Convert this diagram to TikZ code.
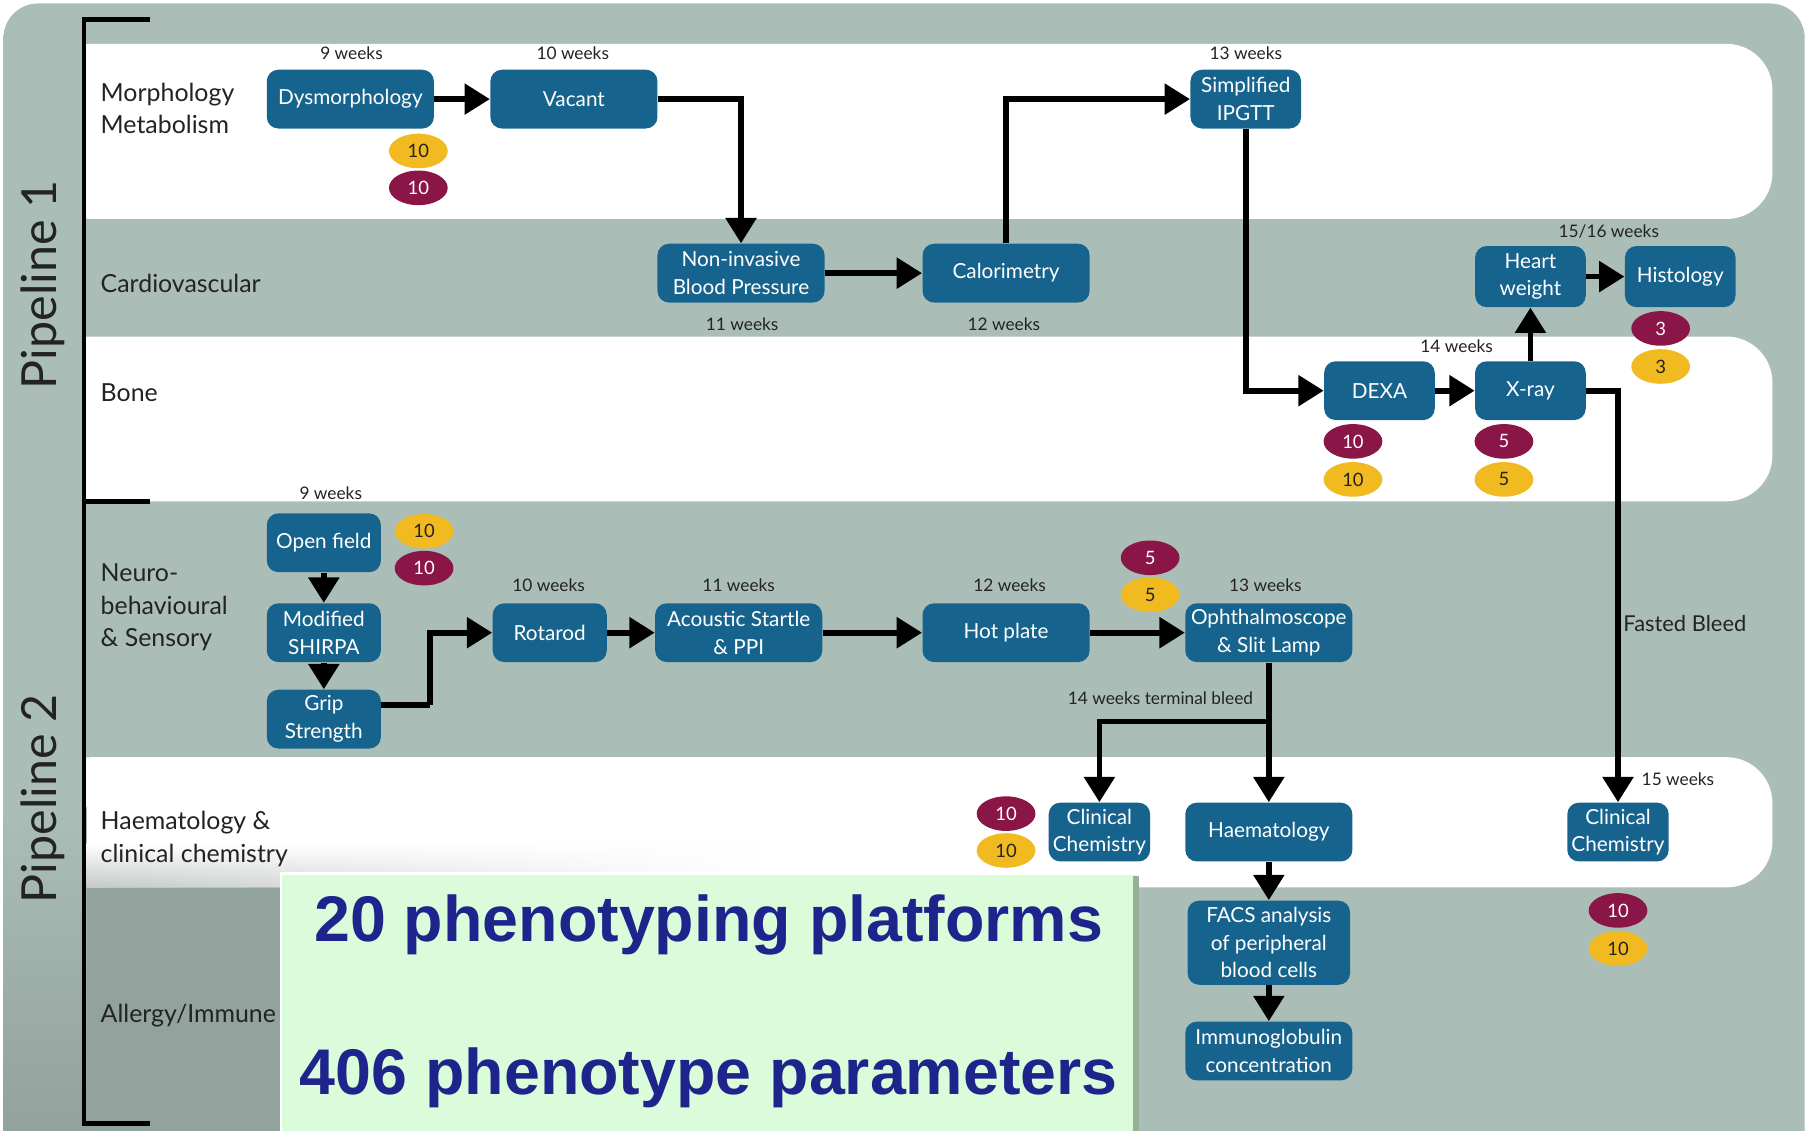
\documentclass[tikz,border=0pt]{standalone}
\usepackage{fontspec}
\setmainfont{Lato}
\newfontfamily\headfont{Liberation Sans}
\usetikzlibrary{arrows.meta,shapes.geometric,fadings}

\definecolor{bggray}{RGB}{170,190,183}
\definecolor{darkgray}{RGB}{146,162,156}
\definecolor{boxblue}{RGB}{22,100,142}
\definecolor{ovyellow}{RGB}{240,186,32}
\definecolor{ovmaroon}{RGB}{138,22,72}
\definecolor{navy}{RGB}{30,36,140}
\definecolor{mint}{RGB}{218,252,218}
\definecolor{minted}{RGB}{150,176,152}
\definecolor{labelink}{RGB}{35,35,35}

\begin{document}
\begin{tikzpicture}[x=0.5pt,y=-0.5pt,
  box/.style={fill=boxblue, rounded corners=5pt, text=white, align=center,
    inner sep=0pt, font=\fontsize{9}{12}\selectfont, minimum height=25.5pt},
  wide/.style={box, minimum width=72.5pt},
  mid/.style={box, minimum width=49.5pt},
  narrow/.style={box, minimum width=48pt},
  chem/.style={box, minimum width=44pt},
  num/.style={ellipse, inner sep=0pt, minimum width=25.5pt, minimum height=15pt,
    font=\fontsize{8}{8}\selectfont},
  yel/.style={num, fill=ovyellow, text=labelink},
  mar/.style={num, fill=ovmaroon, text=white},
  wk/.style={font=\fontsize{7.5}{9}\selectfont, text=labelink},
  lane/.style={anchor=west, align=left, text=labelink, inner sep=0pt,
    font=\fontsize{10.8}{14}\selectfont},
  pipe/.style={rotate=90, text=labelink, font=\fontsize{21}{24}\selectfont},
  arr/.style={line width=2.5pt, -{Triangle[length=11pt,width=13pt]}},
  link/.style={line width=2.5pt},
  bracket/.style={line width=2pt, black},
  big/.style={text=navy, font=\headfont\bfseries\fontsize{28}{32}\selectfont}
]
\useasboundingbox (0,0) rectangle (1568,981);

% page and panel background
\fill[white] (0,0) rectangle (1568,981);
\fill[bggray, rounded corners=15] (3,3) rectangle (1566,1010);

% white lanes with rounded right ends
\fill[white, rounded corners=20] (40,38) rectangle (1538,190);
\fill[white, rounded corners=20] (40,292) rectangle (1538,435);
\fill[white, rounded corners=20] (40,657) rectangle (1538,770);
\fill[bggray] (3,30) rectangle (75,981);

% shadow of the summary panel
\fill[darkgray] (75,770) rectangle (244,981);
\shade[top color=bggray, bottom color=darkgray] (3,700) rectangle (75,981);
\shade[top color=white, bottom color={rgb,255:red,196;green,201;blue,199}, path fading=east]
  (75,732) rectangle (660,770);

% pipeline brackets
\draw[bracket] (130,17) -- (73,17) -- (73,975) -- (130,975);
\draw[bracket] (73,435) -- (130,435);
\node[pipe] (p1) at (37,247) {Pipeline 1};
\node[pipe] (p2) at (37,693) {Pipeline 2};

% lane titles
\node[lane] (lmorph) at (87,94) {Morphology\\Metabolism};
\node[lane] (lcardio) at (87,246) {Cardiovascular};
\node[lane] (lbone) at (87,341) {Bone};
\node[lane] (lneuro) at (87,527) {Neuro-\\behavioural\\\& Sensory};
\node[lane] (lhaem) at (87,728) {Haematology \&\\clinical chemistry};
\node[lane] (lallergy) at (87,881) {Allergy/Immune};

% platforms
\node[wide] (dys) at (304,86) {Dysmorphology};
\node[wide] (vac) at (498,86) {Vacant};
\node[narrow] (ipgtt) at (1081,86) {Simplified\\IPGTT};
\node[wide] (nibp) at (643,237) {Non-invasive\\Blood Pressure};
\node[wide] (cal) at (873,237) {Calorimetry};
\node[narrow, minimum height=26.5pt] (heart) at (1328,240) {Heart\\weight};
\node[narrow, minimum height=26.5pt] (hist) at (1458,240) {Histology};
\node[narrow] (dexa) at (1197,339) {DEXA};
\node[narrow] (xray) at (1328,339) {X-ray};
\node[mid] (open) at (281,471) {Open field};
\node[mid] (shirpa) at (281,549) {Modified\\SHIRPA};
\node[mid] (grip) at (281,624) {Grip\\Strength};
\node[mid] (rot) at (477,549) {Rotarod};
\node[wide] (aco) at (641,549) {Acoustic Startle\\\& PPI};
\node[wide] (hot) at (873,549) {Hot plate};
\node[wide] (oph) at (1101,549) {Ophthalmoscope\\\& Slit Lamp};
\node[chem] (cc1) at (954,722) {Clinical\\Chemistry};
\node[wide] (haem) at (1101,722) {Haematology};
\node[chem] (cc2) at (1404,722) {Clinical\\Chemistry};
\node[box, minimum width=70.5pt, minimum height=36.5pt] (facs) at (1101,818) {FACS analysis\\of peripheral\\blood cells};
\node[wide] (igc) at (1101,912) {Immunoglobulin\\concentration};

% sample counts
\node[yel] (dysy) at (363,131) {10};
\node[mar] (dysm) at (363,163) {10};
\node[mar] (histm) at (1441,285) {3};
\node[yel] (histy) at (1441,318) {3};
\node[mar] (dexam) at (1174,383) {10};
\node[yel] (dexay) at (1174,416) {10};
\node[mar] (xraym) at (1305,383) {5};
\node[yel] (xrayy) at (1305,416) {5};
\node[yel] (openy) at (368,461) {10};
\node[mar] (openm) at (368,493) {10};
\node[mar] (ophm) at (998,484) {5};
\node[yel] (ophy) at (998,516) {5};
\node[mar] (cc1m) at (873,706) {10};
\node[yel] (cc1y) at (873,738) {10};
\node[mar] (cc2m) at (1404,790) {10};
\node[yel] (cc2y) at (1404,823) {10};

% ages
\node[wk] (w1) at (305,46) {9 weeks};
\node[wk] (w2) at (497,46) {10 weeks};
\node[wk] (w3) at (1081,46) {13 weeks};
\node[wk] (w4) at (644,281) {11 weeks};
\node[wk] (w5) at (871,281) {12 weeks};
\node[wk] (w6) at (1396,201) {15/16 weeks};
\node[wk] (w7) at (1264,300) {14 weeks};
\node[wk] (w8) at (287,428) {9 weeks};
\node[wk] (w9) at (476,508) {10 weeks};
\node[wk] (w10) at (641,508) {11 weeks};
\node[wk] (w11) at (876,508) {12 weeks};
\node[wk] (w12) at (1098,508) {13 weeks};
\node[wk] (w13) at (1007,606) {14 weeks terminal bleed};
\node[wk] (w14) at (1456,676) {15 weeks};
\node[text=labelink, font=\fontsize{9.5}{11}\selectfont] (fb) at (1462,541) {Fasted Bleed};

% pipeline 1 flow
\draw[arr] (dys) -- (vac);
\draw[arr] (vac.east) -| (nibp.north);
\draw[arr] (nibp) -- (cal);
\draw[arr] (cal.north) |- (ipgtt.west);
\draw[arr] (ipgtt.south) |- (dexa.west);
\draw[arr] (dexa) -- (xray);
\draw[arr] (xray) -- (heart);
\draw[arr] (heart) -- (hist);
\draw[arr] (xray.east) -| (cc2.north);

% pipeline 2 flow
\coordinate (gbend) at (373,612);
\coordinate (tbleed) at (1101,626);
\draw[arr] (open) -- (shirpa);
\draw[arr] (shirpa) -- (grip);
\draw[link] (grip.east |- gbend) -- (gbend);
\draw[arr] (gbend) |- (rot.west);
\draw[arr] (rot) -- (aco);
\draw[arr] (aco) -- (hot);
\draw[arr] (hot) -- (oph);
\draw[arr] (oph) -- (haem);
\draw[arr] (tbleed) -| (cc1.north);
\draw[arr] (haem) -- (facs);
\draw[arr] (facs) -- (igc);

% summary panel
\fill[mint] (244,758) rectangle (987,990);
\draw[white, line width=1pt] (244,990) -- (244,758) -- (987,758);
\fill[minted] (983,760) rectangle (988,990);
\node[big] (nplat) at (615,803) {20 phenotyping platforms};
\node[big] (npar) at (615,935) {406 phenotype parameters};
\end{tikzpicture}
\end{document}
